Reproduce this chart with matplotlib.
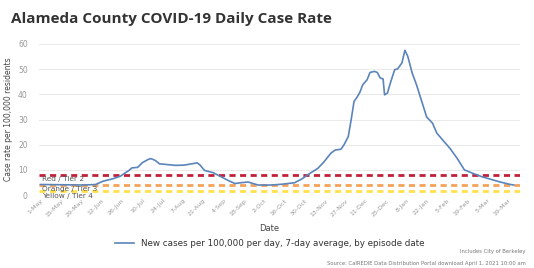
import numpy as np
import pandas as pd
import matplotlib
matplotlib.use("Agg")
import matplotlib.pyplot as plt
import matplotlib.dates as mdates

# 7-day average case rate
dates = ["2020-05-01", "2020-05-03", "2020-05-17", "2020-05-30", "2020-06-08", "2020-06-13",
         "2020-06-20", "2020-06-25", "2020-07-01", "2020-07-03", "2020-07-07", "2020-07-10",
         "2020-07-14", "2020-07-16", "2020-07-19", "2020-07-22", "2020-07-26", "2020-08-02",
         "2020-08-08", "2020-08-13", "2020-08-17", "2020-08-19", "2020-08-22", "2020-08-28",
         "2020-09-03", "2020-09-08", "2020-09-12", "2020-09-16", "2020-09-21", "2020-09-25",
         "2020-09-28", "2020-10-07", "2020-10-14", "2020-10-23", "2020-10-28", "2020-11-02",
         "2020-11-08", "2020-11-12", "2020-11-17", "2020-11-20", "2020-11-24", "2020-11-26",
         "2020-11-29", "2020-12-01", "2020-12-03", "2020-12-05", "2020-12-07", "2020-12-09",
         "2020-12-12", "2020-12-14", "2020-12-17", "2020-12-19", "2020-12-21", "2020-12-23",
         "2020-12-24", "2020-12-26", "2020-12-28", "2020-12-31", "2021-01-02", "2021-01-05",
         "2021-01-07", "2021-01-09", "2021-01-12", "2021-01-15", "2021-01-19", "2021-01-22",
         "2021-01-26", "2021-01-29", "2021-02-02", "2021-02-07", "2021-02-12", "2021-02-17",
         "2021-02-23", "2021-03-01", "2021-03-07", "2021-03-13", "2021-03-20", "2021-03-23"]
rate = [4.2, 4.2, 4.1, 4.0, 4.2, 5.5,
        6.5, 7.5, 9.8, 10.8, 11.0, 12.8,
        14.1, 14.5, 13.8, 12.4, 12.2, 11.8,
        11.9, 12.4, 12.8, 11.9, 9.8, 8.9,
        7.1, 5.6, 4.6, 4.9, 5.2, 4.5,
        4.0, 4.0, 4.3, 4.9, 6.4, 8.4,
        10.6, 13.0, 16.6, 17.9, 18.2, 19.9,
        23.2, 29.9, 37.2, 38.8, 40.8, 43.8,
        45.8, 48.7, 49.1, 48.7, 46.5, 46.1,
        39.8, 40.5, 44.5, 49.8, 50.1, 52.5,
        57.5, 55.1, 48.5, 43.8, 36.5, 31.0,
        28.6, 24.6, 21.9, 18.6, 14.6, 10.0,
        8.6, 7.3, 6.3, 5.3, 4.3, 4.0]

tier_names = ["Red / Tier 2", "Orange / Tier 3", "Yellow / Tier 4"]
tier_levels = [8.0, 4.2, 1.5]
tier_colors = ["#C0213A", "#F4A259", "#FFE24A"]

x = pd.to_datetime(dates)
x_start = pd.Timestamp("2020-04-30")
x_end = pd.Timestamp("2021-03-27")

fig = plt.figure(figsize=(5.34, 2.68), dpi=100)
ax = fig.add_axes([0.073, 0.272, 0.900, 0.564])

for lvl, col in zip(tier_levels, tier_colors):
    ax.plot([x_start, x_end], [lvl, lvl], color=col, lw=2.0, ls=(0, (2.2, 1.6)), zorder=2)

line, = ax.plot(x, rate, color="#5B84BA", lw=1.2, zorder=3)

for name, lvl in zip(tier_names, tier_levels):
    ax.text(pd.Timestamp("2020-05-02"), lvl - 0.6, name, fontsize=5.3, color="#555555",
            va="top", ha="left", zorder=4)

ax.set_xlim(x_start, x_end)
ax.set_ylim(0, 60)
ax.set_yticks(range(0, 61, 10))
ax.yaxis.grid(True, color="#E6E6E6", lw=0.6)
ax.set_axisbelow(True)
for s in ax.spines.values():
    s.set_visible(False)

ticks = pd.date_range("2020-05-01", "2021-03-19", freq="14D")
ax.set_xticks(ticks)
ax.set_xticklabels([f"{t.day}-{t.strftime('%b')}" for t in ticks], rotation=45, ha="right",
                   rotation_mode="anchor", fontsize=4.5, color="#999999")
ax.tick_params(axis="both", length=0, pad=2)
ax.tick_params(axis="y", labelsize=5.5, labelcolor="#999999", pad=8)

ax.set_ylabel("Case rate per 100,000 residents", fontsize=5.5, color="#444444", labelpad=4)

fig.text(0.505, 0.149, "Date", fontsize=6, color="#444444", ha="center", va="center")
fig.legend([line], ["New cases per 100,000 per day, 7-day average, by episode date"],
           loc="center", bbox_to_anchor=(0.505, 0.093), frameon=False, fontsize=6.3,
           handlelength=2.2, labelcolor="#333333", borderpad=0, borderaxespad=0)

fig.text(0.02, 0.93, "Alameda County COVID-19 Daily Case Rate", fontsize=11,
         fontweight="bold", color="#333333", family="Open Sans", va="center")
fig.text(0.985, 0.055, "Includes City of Berkeley", fontsize=3.8, color="#777777", ha="right")
fig.text(0.985, 0.012, "Source: CalREDIE Data Distribution Portal download April 1, 2021 10:00 am",
         fontsize=3.8, color="#777777", ha="right")

fig.savefig("out.png", dpi=100, facecolor="white")
